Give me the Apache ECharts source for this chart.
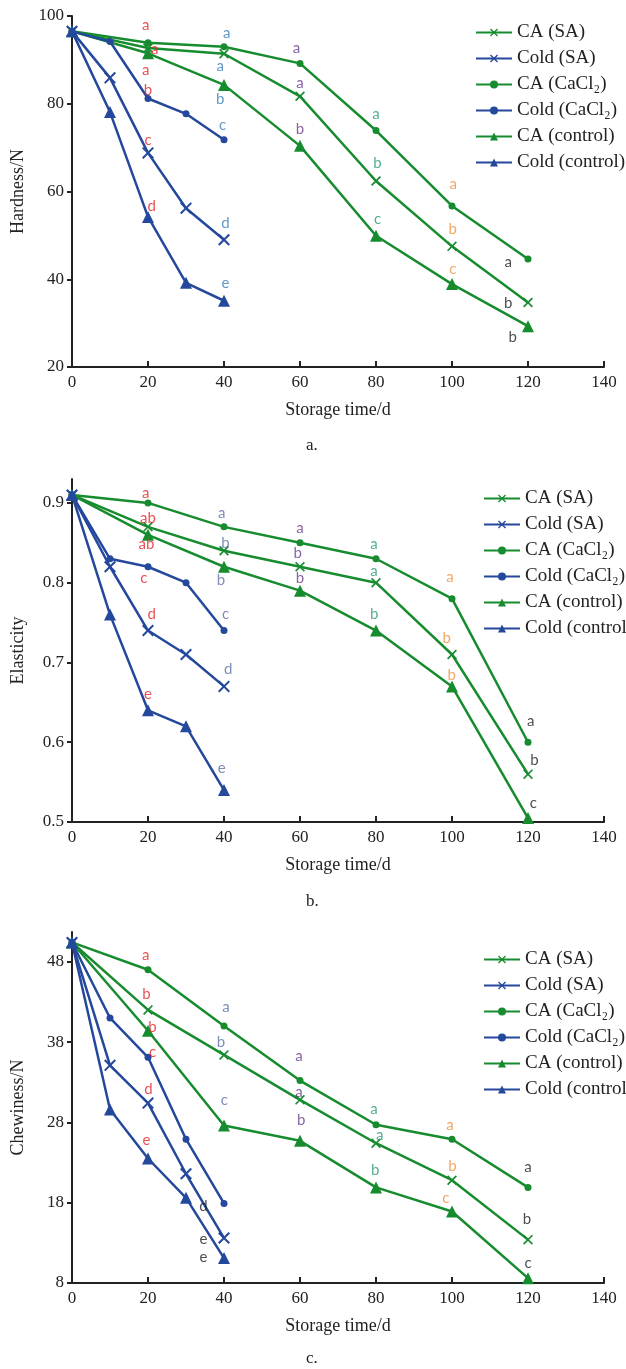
<!DOCTYPE html>
<html>
<head>
<meta charset="utf-8">
<script src="https://cdn.jsdelivr.net/npm/echarts@6/dist/echarts.min.js"></script>
<style>
  html, body { margin: 0; padding: 0; background: #fff; }
  #chart { width: 626px; height: 1369px; }
</style>
</head>
<body>
<div id="chart"></div>
<script>
// storage days
var caDays = [0, 20, 40, 60, 80, 100, 120];
var coldDays = [0, 10, 20, 30, 40];
var seriesNames = ['CA (SA)', 'Cold (SA)', 'CA (CaCl₂)', 'Cold (CaCl₂)', 'CA (control)', 'Cold (control)'];

// a. hardness / N
var hardCaSA = [96.5, 92.7, 91.4, 81.7, 62.4, 47.5, 34.7];
var hardColdSA = [96.5, 85.9, 68.8, 56.2, 49.0];
var hardCaCa = [96.5, 93.9, 93.0, 89.2, 73.9, 56.7, 44.6];
var hardColdCa = [96.5, 94.2, 81.2, 77.7, 71.8];
var hardCaCtl = [96.5, 91.5, 84.3, 70.4, 49.9, 38.9, 29.3];
var hardColdCtl = [96.5, 78.1, 54.2, 39.2, 35.1];

// b. elasticity
var elasCaSA = [0.91, 0.87, 0.84, 0.82, 0.80, 0.71, 0.56];
var elasColdSA = [0.91, 0.82, 0.74, 0.71, 0.67];
var elasCaCa = [0.91, 0.90, 0.87, 0.85, 0.83, 0.78, 0.60];
var elasColdCa = [0.91, 0.83, 0.82, 0.80, 0.74];
var elasCaCtl = [0.91, 0.86, 0.82, 0.79, 0.74, 0.67, 0.505];
var elasColdCtl = [0.91, 0.76, 0.64, 0.62, 0.54];

// c. chewiness / N
var chewCaSA = [50.4, 42.0, 36.4, 30.8, 25.4, 20.8, 13.4];
var chewColdSA = [50.4, 35.1, 30.4, 21.6, 13.6];
var chewCaCa = [50.4, 47.0, 40.0, 33.2, 27.7, 25.9, 19.9];
var chewColdCa = [50.4, 41.0, 36.1, 25.9, 17.9];
var chewCaCtl = [50.4, 39.4, 27.6, 25.7, 19.9, 16.9, 8.6];
var chewColdCtl = [50.4, 29.6, 23.5, 18.6, 11.1];

// significance letters: [day, value, letter, comparison group]
var lettersA = [
  [19.4, 98.0, 'a', 20], [21.8, 92.4, 'a', 20], [19.4, 87.7, 'a', 20], [20, 83.0, 'b', 20], [20, 71.7, 'c', 20], [21, 56.7, 'd', 20],
  [40.7, 96.2, 'a', 40], [39, 88.6, 'a', 40], [39, 81.1, 'b', 40], [39.6, 75.1, 'c', 40], [40.4, 52.7, 'd', 40], [40.4, 39.1, 'e', 40],
  [59.1, 92.7, 'a', 60], [60, 84.7, 'a', 60], [60, 74.1, 'b', 60],
  [80, 77.7, 'a', 80], [80.4, 66.5, 'b', 80], [80.4, 53.6, 'c', 80],
  [100.3, 61.7, 'a', 100], [100.2, 51.4, 'b', 100], [100.2, 42.4, 'c', 100],
  [114.8, 44.0, 'a', 120], [114.8, 34.5, 'b', 120], [116, 26.8, 'b', 120]
];
var lettersB = [
  [19.4, 0.9125, 'a', 20], [20, 0.881, 'ab', 20], [19.6, 0.848, 'ab', 20], [18.9, 0.806, 'c', 20], [21, 0.760, 'd', 20], [20, 0.660, 'e', 20],
  [39.4, 0.8875, 'a', 40], [40.4, 0.85, 'b', 40], [39.2, 0.803, 'b', 40], [40.4, 0.760, 'c', 40], [41.1, 0.692, 'd', 40], [39.4, 0.567, 'e', 40],
  [60, 0.869, 'a', 60], [59.4, 0.8375, 'b', 60], [60, 0.806, 'b', 60],
  [79.5, 0.848, 'a', 80], [79.5, 0.815, 'a', 80], [79.5, 0.760, 'b', 80],
  [99.5, 0.8075, 'a', 100], [98.6, 0.73, 'b', 100], [99.9, 0.6845, 'b', 100],
  [120.7, 0.626, 'a', 120], [121.7, 0.578, 'b', 120], [121.4, 0.523, 'c', 120]
];
var lettersC = [
  [19.4, 48.8, 'a', 20], [19.6, 44.0, 'b', 20], [21.2, 39.9, 'b', 20], [21.2, 36.8, 'c', 20], [20.1, 32.1, 'd', 20], [19.6, 25.8, 'e', 20],
  [40.5, 42.3, 'a', 40], [39.2, 38.0, 'b', 40], [40.1, 30.8, 'c', 40],
  [34.6, 17.6, 'd', 'cold40'], [34.6, 13.4, 'e', 'cold40'], [34.6, 11.2, 'e', 'cold40'],
  [59.7, 36.2, 'a', 60], [59.7, 31.7, 'a', 60], [60.3, 28.3, 'b', 60],
  [79.5, 29.7, 'a', 80], [81, 26.4, 'a', 80], [79.8, 22.1, 'b', 80],
  [99.5, 27.7, 'a', 100], [100.1, 22.5, 'b', 100], [98.4, 18.6, 'c', 100],
  [120, 22.4, 'a', 120], [119.7, 15.9, 'b', 120], [120, 10.5, 'c', 120]
];

var green = '#178c2f', blue = '#24489c';
var toneA = {20: '#e2262c', 40: '#3a7fba', 60: '#6a3c8e', 80: '#2a9a78', 100: '#ec9242', 120: '#222222'};
var toneBC = {20: '#e2262c', 40: '#5f70a8', 60: '#6a3c8e', 80: '#2a9a78', 100: '#ec9242', 120: '#222222', cold40: '#222222'};
var crossPath = 'path://M0,1.2 L1.2,0 L10,8.8 L8.8,10 Z M8.8,0 L10,1.2 L1.2,10 L0,8.8 Z';
var serif = 'Liberation Serif';

var chart = echarts.init(document.getElementById('chart'));

var grids = [
  {left: 72, top: 16, width: 532, height: 351},
  {left: 72, top: 479, width: 532, height: 343},
  {left: 72, top: 932, width: 532, height: 351}
];
var yInfo = [
  {name: 'Hardness/N', min: 20, max: 100, interval: 20, showMax: true},
  {name: 'Elasticity', min: 0.5, max: 0.93, interval: 0.1, showMax: false},
  {name: 'Chewiness/N', min: 8, max: 51.7, interval: 10, showMax: false}
];
var panelData = [
  [hardCaSA, hardColdSA, hardCaCa, hardColdCa, hardCaCtl, hardColdCtl],
  [elasCaSA, elasColdSA, elasCaCa, elasColdCa, elasCaCtl, elasColdCtl],
  [chewCaSA, chewColdSA, chewCaCa, chewColdCa, chewCaCtl, chewColdCtl]
];
var panelLetters = [lettersA, lettersB, lettersC];
var panelTones = [toneA, toneBC, toneBC];
var legendTops = [23, 489, 950];
var legendLefts = [475, 483, 483];
var captions = [['a.', 447], ['b.', 903], ['c.', 1360]];

var symbols = [crossPath, crossPath, 'circle', 'circle', 'triangle', 'triangle'];
var symbolSizes = [10, 12, 7, 7, 12, 12];

var xAxes = [], yAxes = [], series = [], legends = [], graphics = [];

grids.forEach(function (g, i) {
  xAxes.push({
    type: 'value', gridIndex: i, min: 0, max: 140, interval: 20,
    name: 'Storage time/d', nameLocation: 'middle', nameGap: 34,
    nameTextStyle: {fontFamily: serif, fontSize: 18, color: '#222'},
    axisLine: {lineStyle: {color: '#222', width: 2}},
    axisTick: {inside: true, length: 6, lineStyle: {color: '#222', width: 2}},
    axisLabel: {fontFamily: serif, fontSize: 17, color: '#222', margin: 7},
    splitLine: {show: false}
  });
  yAxes.push({
    type: 'value', gridIndex: i, min: yInfo[i].min, max: yInfo[i].max, interval: yInfo[i].interval,
    name: yInfo[i].name, nameLocation: 'middle', nameGap: 45, nameRotate: 90,
    nameTextStyle: {fontFamily: serif, fontSize: 18, color: '#222'},
    axisLine: {show: true, lineStyle: {color: '#222', width: 2}},
    axisTick: {show: true, length: 5, lineStyle: {color: '#222', width: 2}},
    axisLabel: {fontFamily: serif, fontSize: 17, color: '#222', margin: 8, showMaxLabel: yInfo[i].showMax},
    splitLine: {show: false}
  });

  panelData[i].forEach(function (vals, k) {
    var days = k % 2 === 0 ? caDays : coldDays;
    series.push({
      name: seriesNames[k], type: 'line', xAxisIndex: i, yAxisIndex: i,
      data: vals.map(function (v, j) { return [days[j], v]; }),
      symbol: symbols[k], symbolSize: symbolSizes[k],
      color: k % 2 === 0 ? green : blue,
      lineStyle: {width: 2.5},
      z: k % 2 === 0 ? 2 : 3,
      animation: false
    });
  });

  series.push({
    name: 'letters', type: 'scatter', xAxisIndex: i, yAxisIndex: i, silent: true, z: 5,
    symbol: 'circle', symbolSize: 2, itemStyle: {color: 'rgba(0,0,0,0)'},
    data: panelLetters[i].map(function (l) {
      return {value: [l[0], l[1]], name: l[2], label: {color: panelTones[i][l[3]]}};
    }),
    label: {show: true, position: 'inside', formatter: '{b}', fontFamily: 'Lato', fontSize: 15},
    labelLayout: {hideOverlap: false},
    animation: false
  });

  legends.push({
    orient: 'vertical', left: legendLefts[i], top: legendTops[i], padding: 0,
    data: seriesNames, itemGap: 7, itemWidth: 36, itemHeight: 10,
    textStyle: {fontFamily: serif, fontSize: 19, color: '#222'},
    selectedMode: false
  });

  graphics.push({
    type: 'text', left: 306, top: captions[i][1] - 10,
    style: {text: captions[i][0], font: '17px "Liberation Serif"', fill: '#222'}
  });
});

chart.setOption({
  backgroundColor: '#fff',
  animation: false,
  grid: grids,
  xAxis: xAxes,
  yAxis: yAxes,
  legend: legends,
  series: series,
  graphic: graphics
});
</script>
</body>
</html>
